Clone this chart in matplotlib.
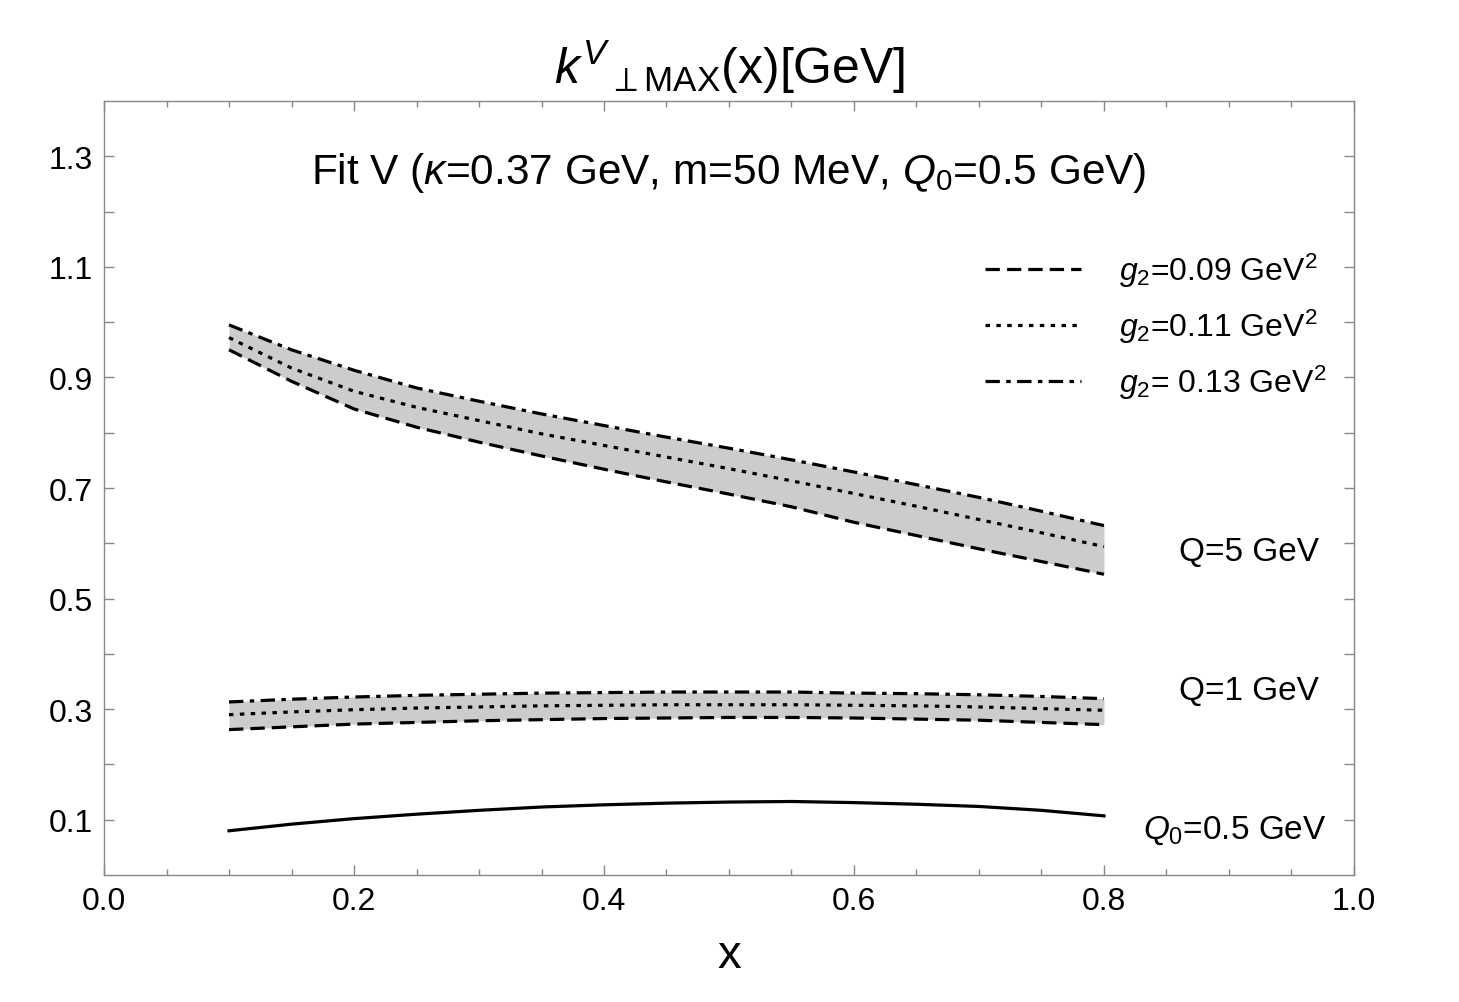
import numpy as np
import matplotlib
matplotlib.use('Agg')
import matplotlib.pyplot as plt
from matplotlib.ticker import MultipleLocator

plt.rcParams['font.family'] = ['Liberation Sans', 'DejaVu Sans']
plt.rcParams['mathtext.fontset'] = 'custom'
plt.rcParams['mathtext.rm'] = 'Liberation Sans'
plt.rcParams['mathtext.it'] = 'Liberation Sans:italic'

x = [0.1, 0.15, 0.2, 0.25, 0.3, 0.35, 0.4, 0.45, 0.5, 0.55, 0.6, 0.65, 0.7, 0.75, 0.8]

# Q = 5 GeV
q5_g009 = [0.950, 0.893, 0.843, 0.810, 0.783, 0.758, 0.734, 0.711, 0.689, 0.666, 0.638, 0.614, 0.590, 0.567, 0.544]
q5_g011 = [0.972, 0.917, 0.875, 0.846, 0.822, 0.798, 0.777, 0.756, 0.735, 0.713, 0.690, 0.667, 0.643, 0.619, 0.594]
q5_g013 = [0.995, 0.950, 0.913, 0.881, 0.857, 0.834, 0.813, 0.792, 0.772, 0.751, 0.729, 0.706, 0.683, 0.658, 0.632]

# Q = 1 GeV
q1_g009 = [0.263, 0.268, 0.273, 0.276, 0.279, 0.281, 0.283, 0.284, 0.285, 0.285, 0.284, 0.282, 0.280, 0.276, 0.272]
q1_g011 = [0.290, 0.295, 0.299, 0.302, 0.304, 0.306, 0.307, 0.308, 0.308, 0.308, 0.307, 0.306, 0.304, 0.301, 0.298]
q1_g013 = [0.313, 0.318, 0.322, 0.325, 0.327, 0.329, 0.330, 0.331, 0.331, 0.331, 0.329, 0.328, 0.326, 0.323, 0.319]

# Q0 = 0.5 GeV
q0 = [0.080, 0.092, 0.102, 0.110, 0.117, 0.123, 0.127, 0.130, 0.132, 0.133, 0.131, 0.128, 0.124, 0.117, 0.107]

labels = [r'$g_2$=0.09 GeV$^2$', r'$g_2$=0.11 GeV$^2$', r'$g_2$= 0.13 GeV$^2$']
styles = [(0, (4.5, 2.2)), (0, (1.4, 2.0)), (0, (4.5, 2.0, 1.4, 2.0))]

fig = plt.figure(figsize=(14.59, 10.03), dpi=100)
ax = fig.add_axes([0.0713, 0.1266, 0.8567, 0.7717])

lw = 2.3
for lo, mid, hi in [(q5_g009, q5_g011, q5_g013), (q1_g009, q1_g011, q1_g013)]:
    ax.fill_between(x, lo, hi, color='#cccccc', lw=0)
    for i, yy in enumerate([lo, mid, hi]):
        ax.plot(x, yy, color='black', lw=lw, linestyle=styles[i], dash_capstyle='butt')
ax.plot(x, q0, color='black', lw=lw)

handles = [plt.Line2D([], [], color='black', lw=lw, linestyle=s) for s in styles]
leg = ax.legend(handles, labels, loc='upper right', bbox_to_anchor=(0.978, 0.806), frameon=False,
                fontsize=23, handlelength=3.0, handletextpad=1.2, labelspacing=0.55,
                borderaxespad=0, borderpad=0)

ax.text(0.5, 0.908, r'Fit V ($\kappa$=0.37 GeV, m=50 MeV, $Q_0$=0.5 GeV)', transform=ax.transAxes,
        ha='center', va='center', fontsize=30.5)
ax.text(0.972, 0.418, 'Q=5 GeV', transform=ax.transAxes, ha='right', va='center', fontsize=24)
ax.text(0.972, 0.238, 'Q=1 GeV', transform=ax.transAxes, ha='right', va='center', fontsize=24)
ax.text(0.978, 0.058, r'$Q_0$=0.5 GeV', transform=ax.transAxes, ha='right', va='center', fontsize=24)

ax.set_xlim(0, 1)
ax.set_ylim(0, 1.4)
ax.xaxis.set_major_locator(MultipleLocator(0.2))
ax.xaxis.set_minor_locator(MultipleLocator(0.05))
ax.set_yticks(np.arange(0.1, 1.4, 0.1))
ax.set_yticklabels(['%.1f' % v if i % 2 == 0 else '' for i, v in enumerate(np.arange(0.1, 1.4, 0.1))])
ax.set_xticklabels(['%.1f' % v for v in ax.get_xticks()])
ax.tick_params(which='both', direction='in', top=True, right=True, color='#888888', width=1, labelsize=23, pad=8)
ax.tick_params(which='major', length=7)
ax.tick_params(which='minor', length=4)
for s in ax.spines.values():
    s.set_color('#888888')
    s.set_linewidth(1)

ax.set_xlabel('x', fontsize=34, labelpad=12)
fig.suptitle(r'$k^{V}{}_{\perp\mathrm{MAX}}$(x)[GeV]', y=0.962, fontsize=36)

plt.savefig('out.png', dpi=100)
